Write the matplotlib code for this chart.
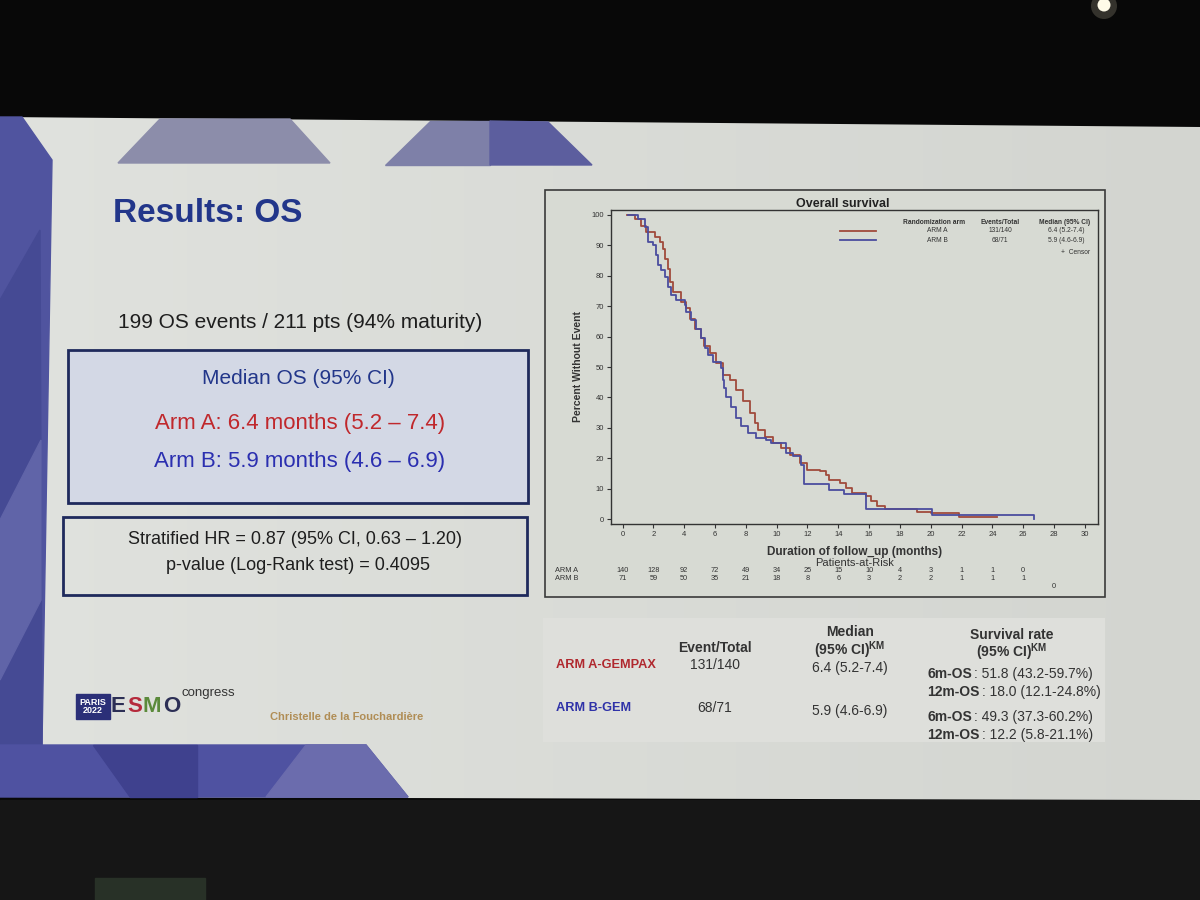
import numpy as np
import matplotlib
matplotlib.use("Agg")
import matplotlib.pyplot as plt
from matplotlib.patches import Polygon, Rectangle, Circle
from matplotlib import transforms

W, H = 1200, 900

# Kaplan-Meier curves (months, percent without event)
arm_a_t = [0.3, 0.78, 1.21, 1.54, 2.08, 2.4, 2.62, 2.73, 2.94, 3.05, 3.27, 3.81,
           4.14, 4.35, 4.68, 5.1, 5.3, 5.65, 6.08, 6.51, 6.95, 7.38, 7.81, 8.25,
           8.57, 8.79, 9.22, 9.76, 10.3, 10.84, 11.49, 12.0, 12.8, 13.2, 13.4,
           14.1, 14.5, 14.9, 15.8, 16.1, 16.5, 17.0, 19.1, 20.0, 21.8, 24.3]
arm_a_s = [100, 98.6, 96.4, 94.2, 92.6, 91.0, 88.8, 85.5, 82.2, 77.9, 74.6, 71.3,
           69.2, 65.9, 62.6, 59.4, 57.0, 54.5, 51.2, 47.4, 45.8, 42.5, 38.7, 34.9,
           31.6, 29.4, 27.2, 25.1, 23.4, 21.2, 18.5, 16.3, 15.8, 14.7, 13.0,
           12.0, 10.4, 8.8, 7.6, 6.0, 4.3, 3.3, 2.6, 2.0, 0.7, 0.7]
arm_b_t = [0.35, 1.0, 1.43, 1.64, 1.97, 2.19, 2.3, 2.51, 2.73, 2.94, 3.16, 3.49,
           4.03, 4.14, 4.46, 4.78, 5.1, 5.32, 5.54, 5.86, 6.41, 6.51, 6.6, 6.73,
           7.06, 7.38, 7.71, 8.14, 8.68, 9.33, 9.66, 10.6, 11.06, 11.6, 11.75,
           13.4, 14.4, 15.8, 20.1, 26.7]
arm_b_s = [100, 98.6, 95.9, 91.0, 89.9, 86.6, 83.3, 81.7, 79.5, 76.2, 73.5, 71.9,
           70.3, 68.1, 65.4, 62.6, 59.4, 56.1, 54.0, 51.7, 49.6, 45.8, 43.0, 40.3,
           37.0, 33.2, 30.5, 28.3, 26.7, 26.1, 25.1, 21.8, 20.7, 18.0, 11.5,
           9.8, 8.2, 3.3, 1.4, 0.0]

# patients at risk
risk_times = [0, 2, 4, 6, 8, 10, 12, 14, 16, 18, 20, 22, 24, 26, 28]
risk_a = [140, 128, 92, 72, 49, 34, 25, 15, 10, 4, 3, 1, 1, 0]
risk_b = [71, 59, 50, 35, 21, 18, 8, 6, 3, 2, 2, 1, 1, 1, 0]

# legend / summary table
arm_names = ["ARM A", "ARM B"]
events = ["131/140", "68/71"]
medians = ["6.4 (5.2-7.4)", "5.9 (4.6-6.9)"]
table_arms = ["ARM A-GEMPAX", "ARM B-GEM"]
surv_6m = ["51.8 (43.2-59.7%)", "49.3 (37.3-60.2%)"]
surv_12m = ["18.0 (12.1-24.8%)", "12.2 (5.8-21.1%)"]

red = "#a04a3c"
blue = "#4b4d9e"
navy = "#22368a"
dark = "#1e1e1e"
sans = ["Liberation Sans", "DejaVu Sans"]
plt.rcParams["font.family"] = sans


def box(l, t, r, b):
    # pixel box (top-left origin) -> figure fraction
    return [l / W, 1 - b / H, (r - l) / W, (b - t) / H]


fig = plt.figure(figsize=(12, 9), dpi=100, facecolor="#080808")
bg = fig.add_axes([0, 0, 1, 1])
bg.set_xlim(0, W)
bg.set_ylim(H, 0)
bg.axis("off")

# dark floor under the screen
bg.add_patch(Rectangle((0, 800), W, 100, color="#161616", zorder=0))
bg.add_patch(Rectangle((95, 878), 110, 22, color="#283127", zorder=0))
# lamp in the top right corner
bg.add_patch(Circle((1104, 6), 13, facecolor="#fff6d0", alpha=0.18, lw=0,
                    zorder=1))
bg.add_patch(Circle((1104, 5), 6.5, facecolor="#fffbe8", lw=0, zorder=1))

# slide with a faint left-to-right shading
slide = Polygon([(0, 117), (W, 127), (W, 800), (0, 797)], closed=True,
                facecolor="none", edgecolor="none")
bg.add_patch(slide)
grad = np.linspace(0, 1, 256)[None, :, None]
c0 = np.array([224, 226, 222]) / 255
c1 = np.array([211, 213, 208]) / 255
img = c0 + (c1 - c0) * grad
im = bg.imshow(img, extent=(0, W, 800, 117), aspect="auto", zorder=1)
im.set_clip_path(slide)

# blue decoration on the left and bottom
bg.add_patch(Polygon([(0, 117), (22, 117), (52, 160), (42, 745), (0, 745)],
                     color="#50549f", zorder=2))
bg.add_patch(Polygon([(0, 300), (40, 230), (42, 745), (0, 745)],
                     color="#454a94", zorder=2))
bg.add_patch(Polygon([(0, 520), (41, 440), (41, 600), (0, 680)],
                     color="#6064a8", zorder=2))
bg.add_patch(Polygon([(0, 745), (366, 745), (408, 797), (0, 797)],
                     color="#4f52a1", zorder=2))
bg.add_patch(Polygon([(93, 745), (197, 745), (197, 797), (130, 797)],
                     color="#3f418e", zorder=2))
bg.add_patch(Polygon([(266, 797), (306, 745), (366, 745), (408, 797)],
                     color="#6b6cad", zorder=2))
bg.add_patch(Polygon([(118, 163), (330, 163), (290, 119), (160, 119)],
                     color="#8c8daa", zorder=2))
bg.add_patch(Polygon([(385, 165), (490, 165), (490, 121), (430, 121)],
                     color="#7e80a8", zorder=2))
bg.add_patch(Polygon([(490, 165), (592, 165), (548, 122), (490, 121)],
                     color="#5c5e9e", zorder=2))

# left column text
bg.text(113, 213, "Results: OS", fontsize=24, fontweight="bold", color=navy,
        va="center", ha="left", zorder=3)
bg.text(118, 322, "199 OS events / 211 pts (94% maturity)", fontsize=15,
        color=dark, va="center", ha="left", zorder=3)

bg.add_patch(Rectangle((68, 350), 460, 153, facecolor="#d3d8e5",
                       edgecolor="#1f2a5c", lw=2, zorder=3))
bg.text(298, 378, "Median OS (95% CI)", fontsize=15, color=navy,
        ha="center", va="center", zorder=4)
bg.text(300, 424, "Arm A: 6.4 months (5.2 \u2013 7.4)", fontsize=16,
        color="#c0282c", ha="center", va="center", zorder=4)
bg.text(300, 462, "Arm B: 5.9 months (4.6 \u2013 6.9)", fontsize=16,
        color="#2b2fb0", ha="center", va="center", zorder=4)

bg.add_patch(Rectangle((63, 517), 464, 78, facecolor="none",
                       edgecolor="#1f2a5c", lw=2, zorder=3))
bg.text(295, 539, "Stratified HR = 0.87 (95% CI, 0.63 \u2013 1.20)",
        fontsize=13, color=dark, ha="center", va="center", zorder=4)
bg.text(298, 565, "p-value (Log-Rank test) = 0.4095", fontsize=13,
        color=dark, ha="center", va="center", zorder=4)

# congress logo and speaker
bg.add_patch(Rectangle((76, 694), 34, 25, color="#2b2f78", zorder=3))
bg.text(93, 706.5, "PARIS\n2022", fontsize=6.5, color="white", ha="center",
        va="center", linespacing=0.9, fontweight="bold", zorder=4)
for letter, lx, lc in zip("ESMO", [111, 127, 143, 163],
                          ["#2c2f55", "#b52a3c", "#5b8a3b", "#2c2f55"]):
    bg.text(lx, 707, letter, fontsize=16, color=lc, fontweight="bold",
            ha="left", va="center", zorder=4)
bg.text(182, 693, "congress", fontsize=9.5, color="#333333",
        ha="left", va="center", zorder=4)
bg.text(270, 717, "Christelle de la Fouchardi\u00e8re", fontsize=8,
        fontweight="bold", color="#b08d55", ha="left", va="center", zorder=4)

# chart frame
bg.add_patch(Rectangle((545, 190), 560, 407, facecolor="#d7dad3",
                       edgecolor="#3a3a3a", lw=1.2, zorder=3))

ax = fig.add_axes(box(611, 210, 1098, 524))
ax.set_zorder(5)
ax.patch.set_alpha(0)
ax.step(arm_a_t, arm_a_s, where="post", color=red, lw=1.3)
ax.step(arm_b_t, arm_b_s, where="post", color=blue, lw=1.3)
ax.set_xlim(-0.75, 30.85)
ax.set_ylim(-1.5, 101.5)
ax.set_xticks(range(0, 31, 2))
ax.set_yticks(range(0, 101, 10))
ax.tick_params(labelsize=5.5, length=3, width=0.8, colors="#333333", pad=2)
for s in ax.spines.values():
    s.set_color("#333333")
    s.set_linewidth(1)
ax.set_ylabel("Percent Without Event", fontsize=7.5, fontweight="bold",
              color="#333333", labelpad=6)

bg.text(843, 204, "Overall survival", fontsize=9, fontweight="bold",
        color="#222222", ha="center", va="center", zorder=6)
bg.text(855, 552, "Duration of follow_up (months)", fontsize=8.5,
        fontweight="bold", color="#333333", ha="center", va="center", zorder=6)
bg.text(855, 563, "Patients-at-Risk", fontsize=8, color="#333333",
        ha="center", va="center", zorder=6)

# legend table inside the plot
bg.text(965, 222, "Randomization arm", fontsize=4.8, fontweight="bold",
        color="#333333", ha="right", va="center", zorder=6)
bg.text(1020, 222, "Events/Total", fontsize=4.8, fontweight="bold",
        color="#333333", ha="right", va="center", zorder=6)
bg.text(1090, 222, "Median (95% CI)", fontsize=4.8, fontweight="bold",
        color="#333333", ha="right", va="center", zorder=6)
for i, (nm, ev, md, col) in enumerate(zip(arm_names, events, medians,
                                          [red, blue])):
    yy = 231 + 9 * i
    bg.plot([840, 876], [yy, yy], color=col, lw=1.3, zorder=6)
    bg.text(937, yy, nm, fontsize=4.8, color="#333333", ha="center",
            va="center", zorder=6)
    bg.text(1000, yy, ev, fontsize=4.8, color="#333333", ha="center",
            va="center", zorder=6)
    bg.text(1066, yy, md, fontsize=4.8, color="#333333", ha="center",
            va="center", zorder=6)
bg.text(1090, 252, "+  Censor", fontsize=4.8, color="#333333", ha="right",
        va="center", zorder=6)

# at-risk rows: x follows the data axis, y follows the page
tr = transforms.blended_transform_factory(ax.transData, bg.transData)
bg.text(555, 570, "ARM A", fontsize=5.3, color="#333333", ha="left",
        va="center", zorder=6)
bg.text(555, 578, "ARM B", fontsize=5.3, color="#333333", ha="left",
        va="center", zorder=6)
for t, n in zip(risk_times, risk_a):
    ax.text(t, 570, str(n), transform=tr, fontsize=5.3, color="#333333",
            ha="center", va="center", clip_on=False)
for t, n in zip(risk_times, risk_b):
    yy = 587 if t == 28 else 578
    ax.text(t, yy, str(n), transform=tr, fontsize=5.3, color="#333333",
            ha="center", va="center", clip_on=False)

# summary table under the chart
bg.add_patch(Rectangle((543, 618), 562, 124, facecolor="#dedfdb",
                       edgecolor="none", zorder=3))
tk = dict(color="#333333", va="center", zorder=6)
bg.text(715, 648, "Event/Total", fontsize=10, fontweight="bold", ha="center",
        **tk)
bg.text(850, 632, "Median", fontsize=10, fontweight="bold", ha="center", **tk)
bg.text(850, 650, "(95% CI)$^{\\mathregular{KM}}$", fontsize=10,
        fontweight="bold", ha="center", **tk)
bg.text(1012, 635, "Survival rate", fontsize=10, fontweight="bold",
        ha="center", **tk)
bg.text(1012, 652, "(95% CI)$^{\\mathregular{KM}}$", fontsize=10,
        fontweight="bold", ha="center", **tk)
for i, col in enumerate(["#b0282e", "#2f32a8"]):
    y0 = 665 + 43 * i
    bg.text(556, y0, table_arms[i], fontsize=9.2, fontweight="bold",
            color=col, ha="left", va="center", zorder=6)
    bg.text(715, y0, events[i], fontsize=10, ha="center", **tk)
    bg.text(850, y0 + 3, medians[i], fontsize=10, ha="center", **tk)
    bg.text(972, y0 + 9, "6m-OS", fontsize=10, fontweight="bold", ha="right",
            **tk)
    bg.text(974, y0 + 9, ": " + surv_6m[i], fontsize=10, ha="left", **tk)
    bg.text(980, y0 + 27, "12m-OS", fontsize=10, fontweight="bold",
            ha="right", **tk)
    bg.text(982, y0 + 27, ": " + surv_12m[i], fontsize=10, ha="left", **tk)

fig.savefig("out.png", dpi=100, facecolor=fig.get_facecolor())
